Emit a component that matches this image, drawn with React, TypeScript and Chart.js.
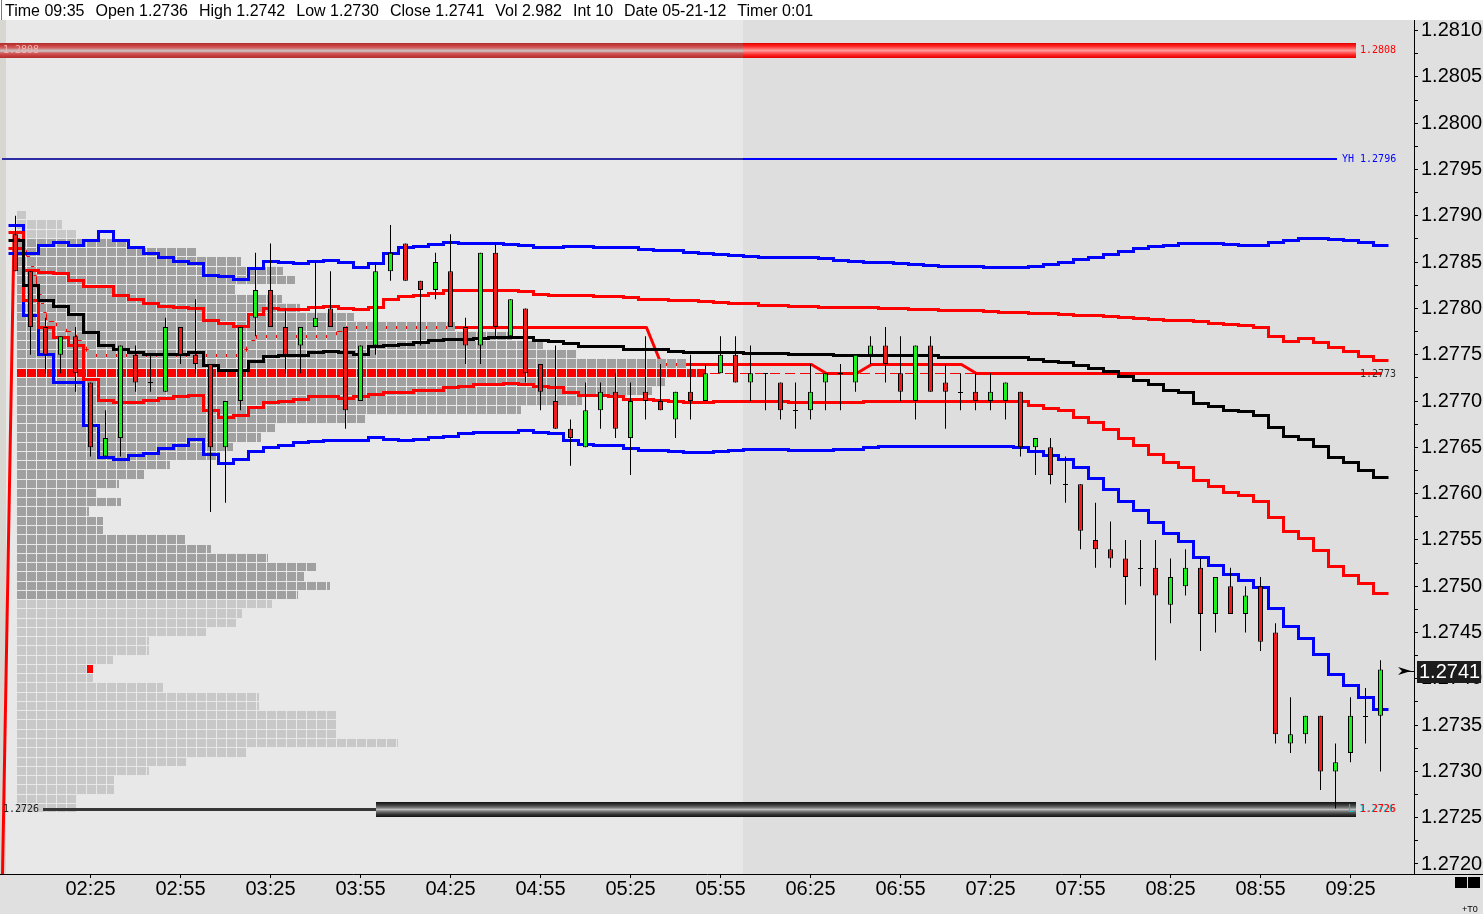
import React, { useEffect, useRef } from 'react';
import { Chart, registerables } from 'chart.js';

Chart.register(...registerables);

// ---------------- categories & ticks ----------------
const firstBarTime = '02:00';
const barMinutes = 5;
const secondSessionStart = '06:05';
const supportBandStart = '04:00';

const xTickLabels = ['02:25', '02:55', '03:25', '03:55', '04:25', '04:55', '05:25', '05:55', '06:25', '06:55', '07:25', '07:55', '08:25', '08:55', '09:25'];
const yTickLabels = ['1.2720', '1.2725', '1.2730', '1.2735', '1.2740', '1.2745', '1.2750', '1.2755', '1.2760', '1.2765', '1.2770', '1.2775', '1.2780', '1.2785', '1.2790', '1.2795', '1.2800', '1.2805', '1.2810'];

// ---------------- OHLC (5-minute bars) ----------------
const opens = [
  1.2788, 1.2784, 1.2778, 1.2775, 1.2777, 1.2772, 1.2764, 1.2766, 1.2775, 1.2772,
  1.2771, 1.2778, 1.2775, 1.2774, 1.2765, 1.2770, 1.2779, 1.2782, 1.2778, 1.2776,
  1.2778, 1.2780, 1.2778, 1.2770, 1.2776, 1.2784, 1.2787, 1.2783, 1.2782, 1.2784,
  1.2778, 1.2776, 1.2786, 1.2777, 1.2780, 1.2774, 1.2770, 1.2767, 1.2765, 1.2769,
  1.2771, 1.2766, 1.2771, 1.2770, 1.2768, 1.2771, 1.2770, 1.2773, 1.2775, 1.2772,
  1.2773, 1.2772, 1.2769, 1.2769, 1.2772, 1.2773, 1.2772, 1.2775, 1.2776, 1.2773,
  1.2770, 1.2776, 1.2772, 1.2771, 1.2771, 1.2770, 1.2770, 1.2771, 1.2765, 1.2765,
  1.2761, 1.2761, 1.2755, 1.2754, 1.2753, 1.2752, 1.2752, 1.2748, 1.2750, 1.2752,
  1.2747, 1.2750, 1.2747, 1.2750, 1.2745, 1.2733, 1.2734, 1.2736, 1.2730, 1.2732,
  1.2736, 1.2736,
];
const highs = [
  1.2790, 1.2784, 1.2779, 1.2777, 1.2778, 1.2772, 1.2769, 1.2776, 1.2776, 1.2775,
  1.2779, 1.2778, 1.2781, 1.2774, 1.2770, 1.2778, 1.2786, 1.2787, 1.2780, 1.2778,
  1.2785, 1.2784, 1.2778, 1.2776, 1.2785, 1.2789, 1.2787, 1.2783, 1.2786, 1.2788,
  1.2779, 1.2786, 1.2787, 1.2781, 1.2780, 1.2774, 1.2776, 1.2768, 1.2772, 1.2772,
  1.2773, 1.2772, 1.2777, 1.2774, 1.2771, 1.2775, 1.2774, 1.2777, 1.2777, 1.2776,
  1.2773, 1.2772, 1.2772, 1.2774, 1.2773, 1.2774, 1.2775, 1.2777, 1.2778, 1.2777,
  1.2776, 1.2777, 1.2774, 1.2773, 1.2773, 1.2773, 1.2772, 1.2771, 1.2766, 1.2766,
  1.2764, 1.2761, 1.2759, 1.2757, 1.2755, 1.2755, 1.2755, 1.2753, 1.2754, 1.2753,
  1.2751, 1.2752, 1.2750, 1.2751, 1.2746, 1.2738, 1.2736, 1.2736, 1.2733, 1.2738,
  1.2739, 1.2742,
];
const lows = [
  1.2784, 1.2775, 1.2773, 1.2773, 1.2771, 1.2764, 1.2764, 1.2764, 1.2771, 1.2771,
  1.2771, 1.2774, 1.2773, 1.2758, 1.2759, 1.2769, 1.2777, 1.2778, 1.2773, 1.2773,
  1.2778, 1.2778, 1.2767, 1.2770, 1.2775, 1.2783, 1.2783, 1.2776, 1.2781, 1.2778,
  1.2774, 1.2774, 1.2777, 1.2777, 1.2772, 1.2769, 1.2767, 1.2763, 1.2765, 1.2767,
  1.2766, 1.2762, 1.2768, 1.2769, 1.2766, 1.2768, 1.2770, 1.2773, 1.2772, 1.2770,
  1.2769, 1.2768, 1.2767, 1.2768, 1.2769, 1.2769, 1.2771, 1.2774, 1.2772, 1.2770,
  1.2768, 1.2771, 1.2767, 1.2769, 1.2769, 1.2769, 1.2768, 1.2764, 1.2762, 1.2761,
  1.2759, 1.2754, 1.2752, 1.2752, 1.2748, 1.2750, 1.2742, 1.2746, 1.2749, 1.2743,
  1.2745, 1.2747, 1.2745, 1.2743, 1.2733, 1.2732, 1.2733, 1.2728, 1.2726, 1.2731,
  1.2733, 1.2730,
];
const closes = [
  1.2784, 1.2778, 1.2775, 1.2777, 1.2773, 1.2765, 1.2766, 1.2776, 1.2772, 1.2772,
  1.2778, 1.2775, 1.2774, 1.2765, 1.2770, 1.2778, 1.2782, 1.2778, 1.2775, 1.2778,
  1.2779, 1.2778, 1.2769, 1.2776, 1.2784, 1.2786, 1.2783, 1.2782, 1.2785, 1.2778,
  1.2776, 1.2786, 1.2778, 1.2781, 1.2773, 1.2771, 1.2767, 1.2766, 1.2769, 1.2771,
  1.2767, 1.2770, 1.2770, 1.2769, 1.2771, 1.2770, 1.2773, 1.2775, 1.2772, 1.2773,
  1.2773, 1.2769, 1.2769, 1.2771, 1.2773, 1.2773, 1.2775, 1.2776, 1.2774, 1.2771,
  1.2776, 1.2771, 1.2771, 1.2771, 1.2770, 1.2771, 1.2772, 1.2765, 1.2766, 1.2762,
  1.2761, 1.2756, 1.2754, 1.2753, 1.2751, 1.2752, 1.2749, 1.2751, 1.2752, 1.2747,
  1.2751, 1.2747, 1.2749, 1.2744, 1.2734, 1.2734, 1.2736, 1.2730, 1.2731, 1.2736,
  1.2736, 1.2741,
];

// ---------------- VWAP & deviation bands ----------------
const upperBand2 = [
  1.27890, 1.27860, 1.27868, 1.27872, 1.27868, 1.27874, 1.27884, 1.27874, 1.27866, 1.27860,
  1.27855, 1.27851, 1.27849, 1.27836, 1.27835, 1.27832, 1.27844, 1.27851, 1.27850, 1.27849,
  1.27851, 1.27852, 1.27850, 1.27845, 1.27849, 1.27860, 1.27866, 1.27867, 1.27870, 1.27872,
  1.27871, 1.27871, 1.27871, 1.27870, 1.27869, 1.27866, 1.27866, 1.27867, 1.27867, 1.27866,
  1.27866, 1.27866, 1.27864, 1.27863, 1.27863, 1.27861, 1.27860, 1.27859, 1.27858, 1.27857,
  1.27856, 1.27856, 1.27855, 1.27855, 1.27854, 1.27852, 1.27851, 1.27850, 1.27850, 1.27849,
  1.27848, 1.27847, 1.27846, 1.27846, 1.27846, 1.27845, 1.27845, 1.27845, 1.27846, 1.27848,
  1.27850, 1.27853, 1.27856, 1.27859, 1.27862, 1.27865, 1.27867, 1.27869, 1.27871, 1.27871,
  1.27871, 1.27870, 1.27868, 1.27869, 1.27872, 1.27874, 1.27876, 1.27876, 1.27875, 1.27874,
  1.27872, 1.27869,
];
const upperBand1 = [
  1.27883, 1.27841, 1.27839, 1.27838, 1.27831, 1.27824, 1.27824, 1.27814, 1.27810, 1.27806,
  1.27803, 1.27801, 1.27800, 1.27788, 1.27784, 1.27781, 1.27794, 1.27800, 1.27799, 1.27799,
  1.27802, 1.27803, 1.27800, 1.27799, 1.27802, 1.27810, 1.27813, 1.27815, 1.27817, 1.27820,
  1.27820, 1.27820, 1.27820, 1.27820, 1.27819, 1.27816, 1.27815, 1.27815, 1.27814, 1.27813,
  1.27813, 1.27812, 1.27810, 1.27810, 1.27809, 1.27809, 1.27808, 1.27807, 1.27806, 1.27806,
  1.27804, 1.27804, 1.27803, 1.27803, 1.27802, 1.27802, 1.27801, 1.27801, 1.27800, 1.27800,
  1.27799, 1.27799, 1.27798, 1.27798, 1.27798, 1.27797, 1.27796, 1.27796, 1.27795, 1.27795,
  1.27794, 1.27793, 1.27793, 1.27792, 1.27791, 1.27790, 1.27789, 1.27788, 1.27787, 1.27786,
  1.27784, 1.27783, 1.27782, 1.27780, 1.27770, 1.27765, 1.27768, 1.27764, 1.27758, 1.27754,
  1.27749, 1.27744,
];
const vwapLine = [
  1.27874, 1.27825, 1.27809, 1.27803, 1.27794, 1.27774, 1.27761, 1.27756, 1.27753, 1.27751,
  1.27751, 1.27751, 1.27753, 1.27739, 1.27733, 1.27733, 1.27743, 1.27749, 1.27750, 1.27750,
  1.27753, 1.27754, 1.27753, 1.27751, 1.27759, 1.27761, 1.27762, 1.27764, 1.27766, 1.27767,
  1.27767, 1.27768, 1.27769, 1.27769, 1.27769, 1.27766, 1.27765, 1.27763, 1.27759, 1.27759,
  1.27759, 1.27756, 1.27756, 1.27756, 1.27754, 1.27753, 1.27753, 1.27753, 1.27753, 1.27752,
  1.27752, 1.27752, 1.27751, 1.27751, 1.27751, 1.27750, 1.27750, 1.27750, 1.27750, 1.27750,
  1.27750, 1.27750, 1.27748, 1.27748, 1.27748, 1.27748, 1.27748, 1.27748, 1.27745, 1.27743,
  1.27742, 1.27739, 1.27736, 1.27732, 1.27727, 1.27723, 1.27718, 1.27712, 1.27710, 1.27698,
  1.27695, 1.27690, 1.27689, 1.27685, 1.27672, 1.27662, 1.27659, 1.27651, 1.27640, 1.27634,
  1.27625, 1.27618,
];
const lowerBand1 = [
  1.27865, 1.27809, 1.27780, 1.27769, 1.27760, 1.27724, 1.27701, 1.27699, 1.27699, 1.27701,
  1.27703, 1.27705, 1.27707, 1.27690, 1.27683, 1.27685, 1.27694, 1.27699, 1.27700, 1.27702,
  1.27705, 1.27705, 1.27703, 1.27705, 1.27708, 1.27710, 1.27710, 1.27712, 1.27712, 1.27715,
  1.27716, 1.27718, 1.27718, 1.27719, 1.27718, 1.27716, 1.27715, 1.27710, 1.27707, 1.27707,
  1.27705, 1.27702, 1.27702, 1.27701, 1.27700, 1.27699, 1.27699, 1.27700, 1.27700, 1.27700,
  1.27700, 1.27700, 1.27699, 1.27699, 1.27699, 1.27699, 1.27699, 1.27700, 1.27700, 1.27700,
  1.27700, 1.27700, 1.27700, 1.27700, 1.27700, 1.27700, 1.27700, 1.27700, 1.27696, 1.27692,
  1.27690, 1.27683, 1.27677, 1.27670, 1.27660, 1.27653, 1.27643, 1.27634, 1.27629, 1.27615,
  1.27608, 1.27602, 1.27598, 1.27592, 1.27575, 1.27560, 1.27552, 1.27539, 1.27522, 1.27512,
  1.27503, 1.27493,
];
const lowerBand2 = [
  1.27860, 1.27793, 1.27751, 1.27721, 1.27721, 1.27674, 1.27640, 1.27637, 1.27642, 1.27644,
  1.27649, 1.27653, 1.27659, 1.27643, 1.27633, 1.27637, 1.27646, 1.27650, 1.27653, 1.27656,
  1.27657, 1.27658, 1.27658, 1.27658, 1.27661, 1.27659, 1.27658, 1.27659, 1.27661, 1.27662,
  1.27665, 1.27666, 1.27667, 1.27667, 1.27669, 1.27667, 1.27665, 1.27658, 1.27654, 1.27653,
  1.27652, 1.27649, 1.27647, 1.27647, 1.27646, 1.27645, 1.27645, 1.27646, 1.27647, 1.27648,
  1.27648, 1.27648, 1.27647, 1.27647, 1.27647, 1.27648, 1.27648, 1.27650, 1.27651, 1.27651,
  1.27651, 1.27651, 1.27651, 1.27651, 1.27651, 1.27651, 1.27651, 1.27650, 1.27646, 1.27642,
  1.27637, 1.27629, 1.27617, 1.27605, 1.27592, 1.27582, 1.27569, 1.27557, 1.27549, 1.27532,
  1.27523, 1.27513, 1.27507, 1.27499, 1.27477, 1.27457, 1.27444, 1.27427, 1.27405, 1.27393,
  1.27380, 1.27367,
];
const developingPoc = [
  1.2788, 1.2785, 1.2779, 1.2778, 1.2777, 1.2775, 1.2775, 1.2775, 1.2775, 1.2775,
  1.2775, 1.2775, 1.2775, 1.2775, 1.2775, 1.2775, 1.2777, 1.2777, 1.2777, 1.2777,
  1.2777, 1.2777, 1.2778, 1.2778, 1.2778, 1.2778, 1.2778, 1.2778, 1.2778, 1.2778,
  1.2778, 1.2778, 1.2778, 1.2778, 1.2778, 1.2778, 1.2778, 1.2778, 1.2778, 1.2778,
  1.2778, 1.2778, 1.2778, 1.2774, 1.2774, 1.2774, 1.2774, 1.2774, 1.2774, 1.2774,
  1.2774, 1.2774, 1.2774, 1.2774, 1.2773, 1.2773, 1.2773, 1.2774, 1.2774, 1.2774,
  1.2774, 1.2774, 1.2774, 1.2774, 1.2773, 1.2773, 1.2773, 1.2773, 1.2773, 1.2773,
  1.2773, 1.2773, 1.2773, 1.2773, 1.2773, 1.2773, 1.2773, 1.2773, 1.2773, 1.2773,
  1.2773, 1.2773, 1.2773, 1.2773, 1.2773, 1.2773, 1.2773, 1.2773, 1.2773, 1.2773,
  1.2773, 1.2773,
];

// ---------------- market profile ----------------
const profilePrices = [
  1.2790, 1.2789, 1.2788, 1.2787, 1.2786, 1.2785, 1.2784, 1.2783, 1.2782, 1.2781,
  1.2780, 1.2779, 1.2778, 1.2777, 1.2776, 1.2775, 1.2774, 1.2773, 1.2772, 1.2771,
  1.2770, 1.2769, 1.2768, 1.2767, 1.2766, 1.2765, 1.2764, 1.2763, 1.2762, 1.2761,
  1.2760, 1.2759, 1.2758, 1.2757, 1.2756, 1.2755, 1.2754, 1.2753, 1.2752, 1.2751,
  1.2750, 1.2749, 1.2748, 1.2747, 1.2746, 1.2745, 1.2744, 1.2743, 1.2742, 1.2741,
  1.2740, 1.2739, 1.2738, 1.2737, 1.2736, 1.2735, 1.2734, 1.2733, 1.2732, 1.2731,
  1.2730, 1.2729, 1.2728, 1.2727, 1.2726,
];
const profileCounts = [
  1, 4.5, 6, 11, 18, 22.4, 26.6, 27.8, 21.8, 26.5,
  28.3, 33.7, 43.8, 49.5, 52.6, 56, 67, 69, 64.8, 63.5,
  56.5, 50.4, 34.8, 25.8, 24.4, 21.6, 20.3, 15.3, 12.7, 10.2,
  7.9, 10.4, 7.2, 8.6, 8.6, 16.8, 19.4, 25.1, 29.9, 28.7,
  31.3, 28.1, 25.5, 22.5, 21.9, 18.9, 13.2, 13.2, 9.6, 6.9,
  7.6, 14.6, 24.2, 24.2, 31.9, 31.9, 31.9, 38.1, 22.9, 16.9,
  13.2, 9.7, 9.7, 5.9, 5.9,
];
const pocPrice = 1.2773;
const valueAreaHigh = 1.2787;
const valueAreaLow = 1.2749;

// ---------------- levels ----------------
const resistanceLevel = 1.2808;
const yesterdayHigh = 1.2796;
const lowLevel = 1.2726;

// ---------------- header ----------------
const headerLabels = ['Time', 'Open', 'High', 'Low', 'Close', 'Vol', 'Int', 'Date', 'Timer'];
const headerValues = ['09:35', '1.2736', '1.2742', '1.2730', '1.2741', '2.982', '10', '05-21-12', '0:01'];

// ---------------- helpers ----------------
const toMin = (s: string) => { const [h, m] = s.split(':').map(Number); return h * 60 + m; };
const fmtMin = (v: number) => {
  const t = Math.round(v);
  return String(Math.floor(t / 60)).padStart(2, '0') + ':' + String(t % 60).padStart(2, '0');
};
const times = opens.map((_, i) => toMin(firstBarTime) + i * barMinutes);
const xMin = times[0] - barMinutes - 1 / 6;
const xMax = xMin + 1414 / 3;
const yMin = 1.271892;
const yMax = 1.281093;
const HALF_PIP = 0.00005;

const SANS = '"Liberation Sans", Arial, sans-serif';
const MONO = '"DejaVu Sans Mono", "Liberation Mono", monospace';

function stepLine(ctx: any, xs: any, ys: any, values: number[], color: string) {
  ctx.beginPath();
  values.forEach((v, i) => {
    const x0 = Math.round(xs.getPixelForValue(times[i] - barMinutes / 2)) + 0.5;
    const x1 = Math.round(xs.getPixelForValue(times[i] + barMinutes / 2)) + 0.5;
    const y = Math.round(ys.getPixelForValue(v)) + 0.5;
    if (i === 0) ctx.moveTo(x0, y); else ctx.lineTo(x0, y);
    ctx.lineTo(x1, y);
  });
  ctx.strokeStyle = color;
  ctx.lineWidth = 3;
  ctx.lineJoin = 'miter';
  ctx.lineCap = 'butt';
  ctx.stroke();
}

const overlay = {
  id: 'overlay',
  beforeDraw(chart: any) {
    const { ctx, chartArea: a } = chart;
    const xs = chart.scales.x;
    ctx.save();
    ctx.fillStyle = '#e0e0e0';
    ctx.fillRect(0, 0, chart.width, chart.height);
    const sx = Math.round(xs.getPixelForValue(toMin(secondSessionStart) - barMinutes / 2));
    ctx.fillStyle = '#e8e8e8';
    ctx.fillRect(a.left, 20, sx - a.left, a.bottom - 20);
    ctx.fillStyle = '#dedede';
    ctx.fillRect(sx, 20, a.right - sx, a.bottom - 20);
    ctx.restore();
  },
  beforeDatasetsDraw(chart: any) {
    const { ctx, chartArea: a } = chart;
    const xs = chart.scales.x;
    const ys = chart.scales.y;
    const X = (v: number) => xs.getPixelForValue(v);
    const Y = (v: number) => ys.getPixelForValue(v);
    ctx.save();
    ctx.beginPath();
    ctx.rect(a.left, 20, a.right - a.left, a.bottom - 20);
    ctx.clip();

    // left strip and slanted edge
    ctx.fillStyle = '#d7d6d0';
    ctx.fillRect(a.left, 20, 6, a.bottom - 20);
    ctx.strokeStyle = '#ff0000';
    ctx.lineWidth = 3;
    ctx.beginPath();
    ctx.moveTo(a.left + 14, Y(opens[0]));
    ctx.lineTo(a.left + 2.5, a.bottom);
    ctx.stroke();

    // developing POC (under the profile)
    ctx.beginPath();
    developingPoc.forEach((v, i) => {
      const px = Math.round(X(times[i])) + 0.5;
      const py = Math.round(Y(v)) + 0.5;
      if (i) ctx.lineTo(px, py); else ctx.moveTo(px, py);
    });
    ctx.strokeStyle = '#ff0000';
    ctx.lineWidth = 3;
    ctx.lineJoin = 'round';
    ctx.stroke();

    // profile cells
    const cell = 10 / 3;
    const origin = times[0] + 0.5;
    let pocEnd = a.left;
    const lastClose = closes[closes.length - 1];
    profilePrices.forEach((p, r) => {
      const top = Math.round(Y(p + HALF_PIP));
      const h = Math.round(Y(p - HALF_PIP)) - top - 1;
      const n = profileCounts[r];
      const isPoc = Math.abs(p - pocPrice) < 1e-7;
      const inVA = p <= valueAreaHigh + 1e-7 && p >= valueAreaLow - 1e-7;
      ctx.fillStyle = isPoc ? '#ff0000' : inVA ? '#a0a0a0' : '#c8c8c8';
      for (let k = 0; k < n; k++) {
        const l = Math.round(X(origin + k * cell));
        const w = Math.min(9, Math.round((n - k) * 10));
        ctx.fillRect(l, top, w, h);
        if (isPoc) pocEnd = l + w;
      }
      if (Math.abs(p - lastClose) < 1e-7) {
        ctx.fillStyle = '#ff0000';
        ctx.fillRect(Math.round(X(origin + Math.ceil(n) * cell)), top, 6, h);
      }
    });

    const bandEnd = a.right - 58;
    // POC extension (dashed)
    const pyc = Math.round(Y(pocPrice)) + 0.5;
    ctx.save();
    ctx.setLineDash([10, 5]);
    ctx.strokeStyle = '#ff0000';
    ctx.lineWidth = 1;
    ctx.beginPath();
    ctx.moveTo(pocEnd + 4, pyc);
    ctx.lineTo(bandEnd, pyc);
    ctx.stroke();
    ctx.restore();

    const sx = Math.round(X(toMin(secondSessionStart) - barMinutes / 2));

    // resistance band 1.2808
    let yc = Math.round(Y(resistanceLevel));
    let g = ctx.createLinearGradient(0, yc - 6, 0, yc + 9);
    g.addColorStop(0, '#b02c2c'); g.addColorStop(0.18, '#c84040'); g.addColorStop(0.33, '#d46060');
    g.addColorStop(0.48, '#cbb6b6'); g.addColorStop(0.55, '#c8c0c0'); g.addColorStop(0.66, '#d46060');
    g.addColorStop(0.82, '#c84040'); g.addColorStop(1, '#b02c2c');
    ctx.fillStyle = g;
    ctx.fillRect(a.left, yc - 6, sx - a.left, 15);
    g = ctx.createLinearGradient(0, yc - 6, 0, yc + 9);
    g.addColorStop(0, '#e00000'); g.addColorStop(0.2, '#ff2020'); g.addColorStop(0.5, '#ff9a9a');
    g.addColorStop(0.8, '#ff2020'); g.addColorStop(1, '#e00000');
    ctx.fillStyle = g;
    ctx.fillRect(sx, yc - 6, bandEnd - sx, 15);

    // yesterday high
    yc = Math.round(Y(yesterdayHigh));
    ctx.fillStyle = '#2c2ca4';
    ctx.fillRect(a.left + 2, yc - 2, sx - a.left - 2, 2);
    ctx.fillStyle = '#0000ff';
    ctx.fillRect(sx, yc - 2, a.right - 77 - sx, 2);

    // low 1.2726
    yc = Math.round(Y(lowLevel));
    const bs = Math.round(X(toMin(supportBandStart)));
    ctx.fillStyle = '#363636';
    ctx.fillRect(a.left + 43, yc, bs - a.left - 43, 3);
    g = ctx.createLinearGradient(0, yc - 6, 0, yc + 9);
    g.addColorStop(0, '#101010'); g.addColorStop(0.2, '#3c3c3c'); g.addColorStop(0.38, '#7a7a7a');
    g.addColorStop(0.5, '#bcbcbc'); g.addColorStop(0.62, '#7a7a7a'); g.addColorStop(0.8, '#3c3c3c'); g.addColorStop(1, '#101010');
    ctx.fillStyle = g;
    ctx.fillRect(bs, yc - 6, bandEnd - bs, 15);

    // VWAP bands
    stepLine(ctx, xs, ys, upperBand2, '#0000ff');
    stepLine(ctx, xs, ys, lowerBand2, '#0000ff');
    stepLine(ctx, xs, ys, upperBand1, '#ff0000');
    stepLine(ctx, xs, ys, lowerBand1, '#ff0000');
    stepLine(ctx, xs, ys, vwapLine, '#000000');
    ctx.restore();
  },
  afterDatasetsDraw(chart: any) {
    const { ctx } = chart;
    const xs = chart.scales.x;
    const ys = chart.scales.y;
    ctx.save();
    ctx.strokeStyle = '#000';
    ctx.lineWidth = 1;
    opens.forEach((o, i) => {
      if (Math.abs(o - closes[i]) > 1e-7) return;
      const xc = Math.floor(xs.getPixelForValue(times[i]));
      const y = Math.round(ys.getPixelForValue(o)) + 0.5;
      ctx.beginPath();
      ctx.moveTo(xc - 2, y);
      ctx.lineTo(xc + 3, y);
      ctx.stroke();
    });
    ctx.restore();
  },
  afterDraw(chart: any) {
    const { ctx, chartArea: a } = chart;
    const ys = chart.scales.y;
    const Y = (v: number) => ys.getPixelForValue(v);
    ctx.save();
    const lx = a.right - 54;
    ctx.font = `10px ${MONO}`;
    ctx.textBaseline = 'middle';
    ctx.textAlign = 'left';
    // level labels
    ctx.fillStyle = '#ff0000';
    ctx.fillText(resistanceLevel.toFixed(4), lx, Math.round(Y(resistanceLevel)) + 1);
    ctx.fillStyle = '#f0b4b4';
    ctx.fillText(resistanceLevel.toFixed(4), a.left + 3, Math.round(Y(resistanceLevel)) + 1);
    ctx.fillStyle = '#0000ff';
    ctx.fillText('YH ' + yesterdayHigh.toFixed(4), a.right - 72, Math.round(Y(yesterdayHigh)) - 1);
    ctx.fillStyle = '#303030';
    ctx.fillText(pocPrice.toFixed(4), lx, Math.round(Y(pocPrice)) + 1);
    const ly = Math.round(Y(lowLevel)) + 1;
    ctx.fillStyle = '#00c8d8';
    ctx.fillText('L', a.right - 66, ly);
    ctx.fillText(lowLevel.toFixed(4), lx - 1, ly);
    ctx.fillStyle = '#ff0000';
    ctx.fillText(lowLevel.toFixed(4), lx, ly);
    ctx.fillStyle = '#202020';
    ctx.fillText(lowLevel.toFixed(4), a.left + 3, ly);

    // current price marker
    const last = closes[closes.length - 1];
    const cy = Math.round(Y(last)) + 1;
    ctx.fillStyle = '#1c1c1c';
    ctx.fillRect(a.right + 3, cy - 10, 64, 22);
    ctx.fillStyle = '#ffffff';
    ctx.font = `20px ${SANS}`;
    ctx.fillText(last.toFixed(4), a.right + 5, cy + 1);
    ctx.fillStyle = '#000';
    ctx.beginPath();
    ctx.moveTo(a.right - 16, cy - 4);
    ctx.lineTo(a.right - 3, cy);
    ctx.lineTo(a.right - 16, cy + 4);
    ctx.lineTo(a.right - 12, cy);
    ctx.closePath();
    ctx.fill();
    ctx.fillRect(a.right - 12, cy, 12, 1);

    // axis line extensions
    ctx.fillRect(a.right, a.bottom, chart.width - a.right, 1);
    ctx.fillRect(a.right, 20, 1, a.top - 20);

    // header bar
    ctx.fillStyle = '#ffffff';
    ctx.fillRect(0, 0, chart.width, 20);
    ctx.fillStyle = '#7a7a7a';
    ctx.fillRect(1, 0, 1, 20);
    ctx.font = `16px ${SANS}`;
    ctx.fillStyle = '#000';
    ctx.textBaseline = 'alphabetic';
    let hx = 5;
    headerLabels.forEach((l, i) => {
      const s = `${l} ${headerValues[i]}`;
      ctx.fillText(s, hx, 16);
      hx += ctx.measureText(s).width + 11;
    });

    // bottom-right widgets
    ctx.fillStyle = '#000';
    ctx.fillRect(chart.width - 28, a.bottom + 3, 12, 11);
    ctx.fillRect(chart.width - 15, a.bottom + 3, 12, 11);
    ctx.font = `9px ${SANS}`;
    ctx.fillText('+T0', chart.width - 21, chart.height - 2);
    ctx.restore();
  },
};

export default function App() {
  const ref = useRef<HTMLCanvasElement | null>(null);
  useEffect(() => {
    if (!ref.current) return;
    const bodyData = times.map((t, i) => ({ x: t, y: [opens[i], closes[i]] }));
    const wickData = times.map((t, i) => ({ x: t, y: [lows[i], highs[i]] }));
    const chart = new Chart(ref.current, {
      type: 'bar',
      data: {
        datasets: [
          {
            label: 'body',
            data: bodyData as any,
            backgroundColor: opens.map((o, i) => (closes[i] >= o ? '#1cf01c' : '#f01c1c')),
            borderColor: '#000000',
            borderWidth: 1,
            borderSkipped: false,
            grouped: false,
            maxBarThickness: 5,
            inflateAmount: 0,
            order: 0,
          } as any,
          {
            label: 'wick',
            data: wickData as any,
            backgroundColor: '#000000',
            borderWidth: 0,
            grouped: false,
            maxBarThickness: 1,
            inflateAmount: 0,
            order: 1,
          } as any,
        ],
      },
      options: {
        animation: false,
        responsive: false,
        devicePixelRatio: 1,
        events: [],
        layout: { padding: { top: 22, left: 0, right: 0, bottom: 0 } },
        plugins: { legend: { display: false }, tooltip: { enabled: false }, title: { display: false } },
        scales: {
          x: {
            type: 'linear',
            min: xMin,
            max: xMax,
            offset: false,
            afterBuildTicks: (s: any) => { s.ticks = xTickLabels.map((l) => ({ value: toMin(l) })); },
            afterFit: (s: any) => { s.height = 40; },
            border: { display: true, color: '#000000', width: 1 },
            grid: { display: true, offset: false, drawOnChartArea: false, drawTicks: true, tickLength: 4, color: '#000000' },
            ticks: {
              autoSkip: false, maxRotation: 0, minRotation: 0, padding: -1, color: '#000000',
              font: { family: SANS, size: 20 },
              callback: (v: any) => fmtMin(Number(v)),
            },
          },
          y: {
            type: 'linear',
            position: 'right',
            min: yMin,
            max: yMax,
            afterFit: (s: any) => { s.width = 69; },
            border: { display: true, color: '#000000', width: 1 },
            grid: { display: true, drawOnChartArea: false, drawTicks: true, tickLength: 4, color: '#000000' },
            ticks: {
              stepSize: 0.00025, includeBounds: false, autoSkip: false, padding: 3, color: '#000000',
              font: { family: SANS, size: 20 },
              callback: (v: any) => { const s = Number(v).toFixed(4); return yTickLabels.includes(s) ? s : ''; },
            },
          },
        },
      } as any,
      plugins: [overlay],
    });
    return () => chart.destroy();
  }, []);
  return (
    <div style={{ position: 'absolute', left: 0, top: 0, width: 1483, height: 914 }}>
      <canvas ref={ref} width={1483} height={914} style={{ display: 'block', width: 1483, height: 914 }} />
    </div>
  );
}
